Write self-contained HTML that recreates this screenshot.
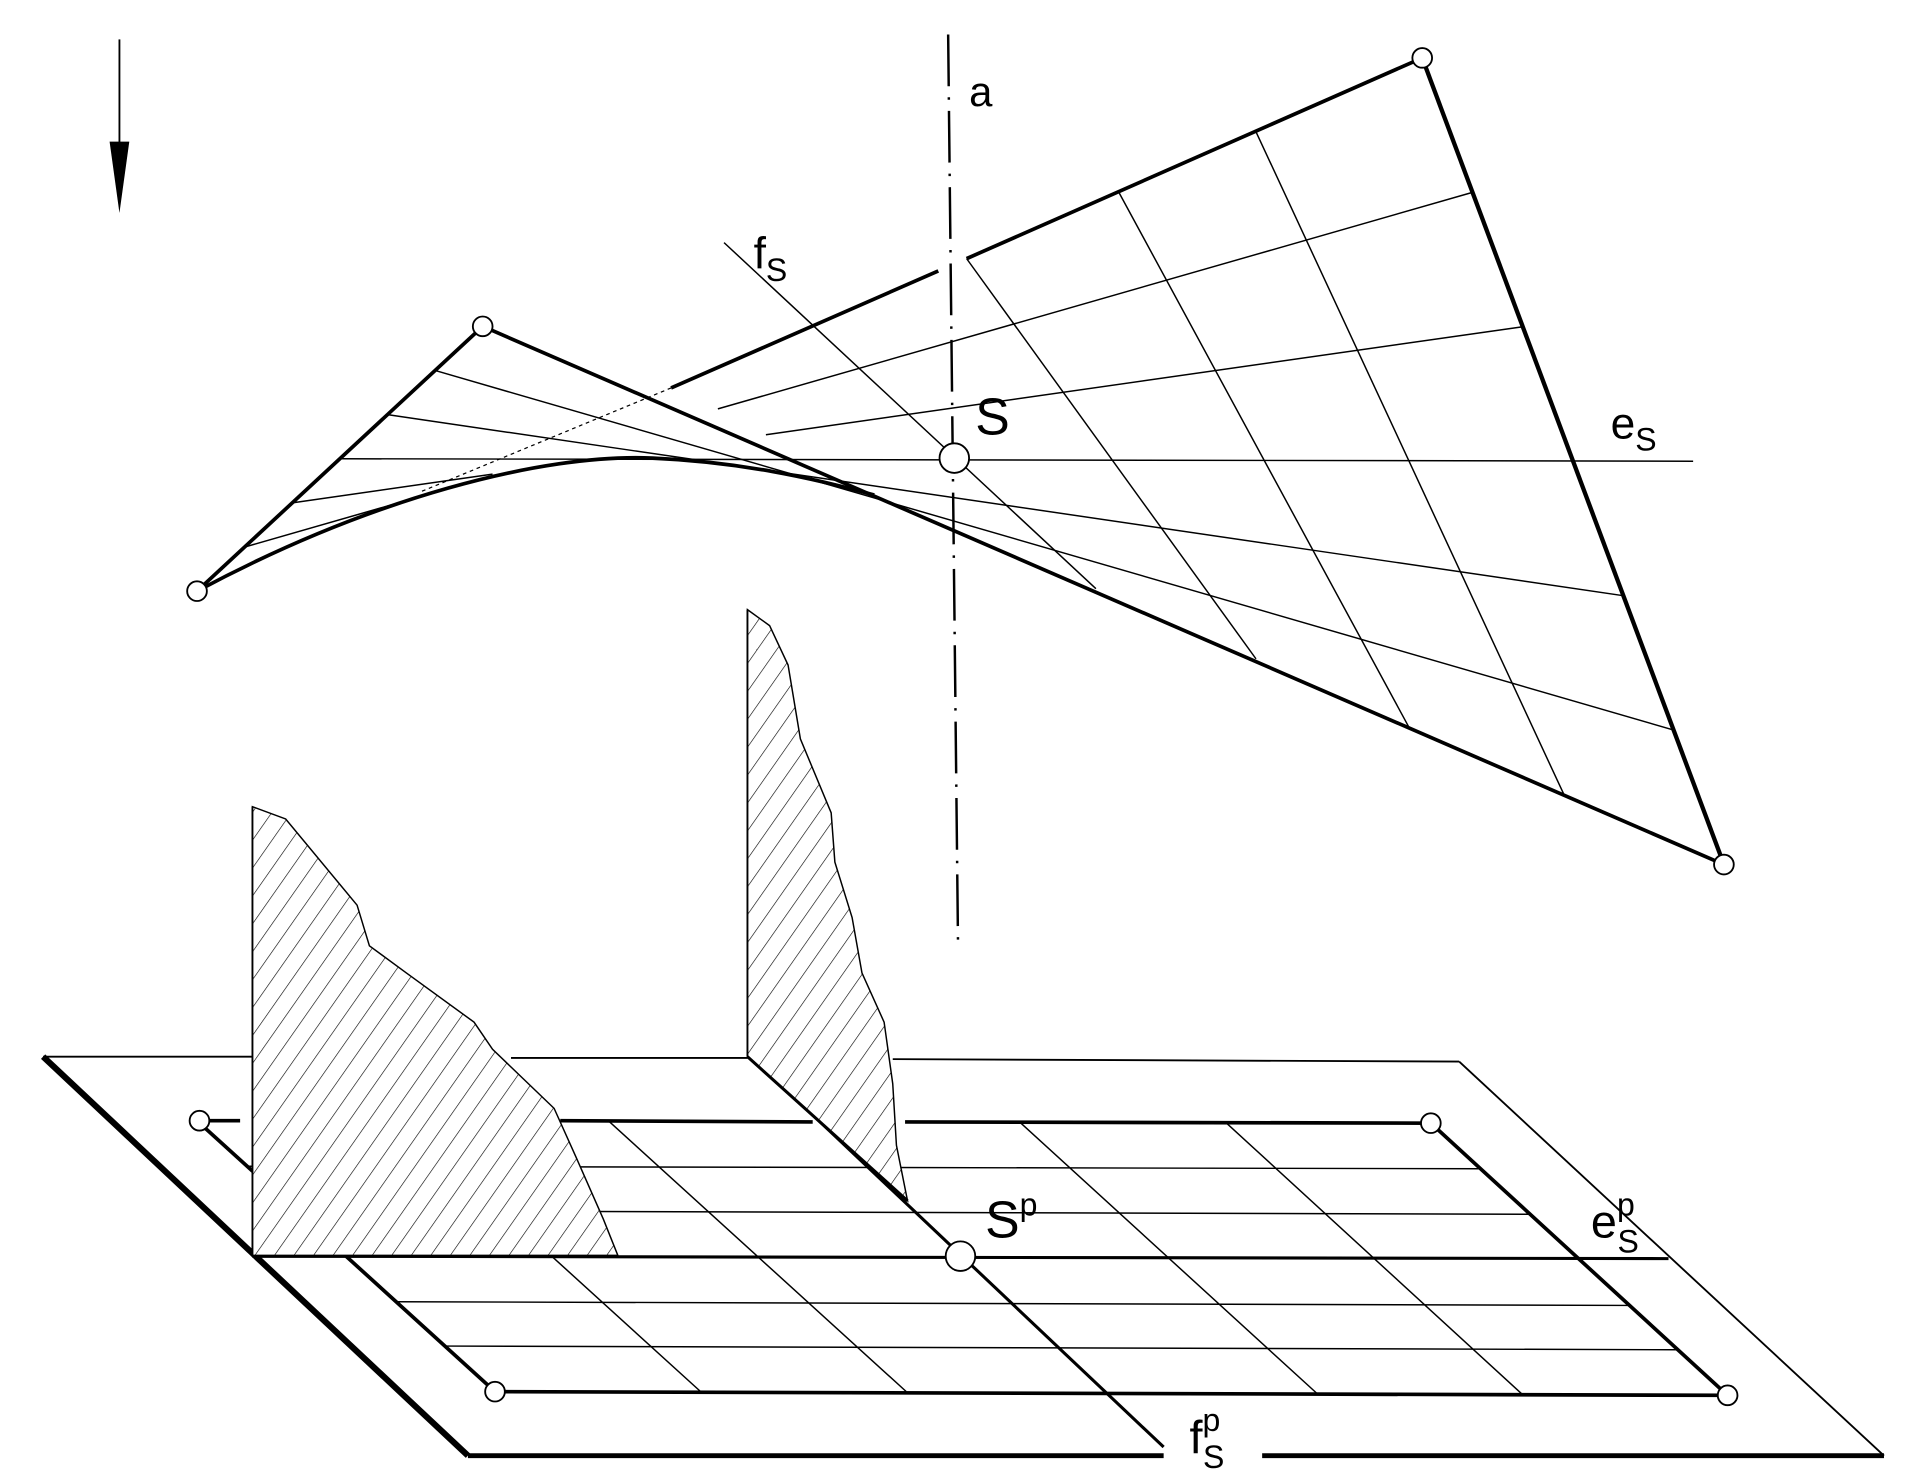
<!DOCTYPE html>
<html><head><meta charset="utf-8"><style>
html,body{margin:0;padding:0;background:#fff;}
svg{display:block;}
text{font-family:"Liberation Sans",sans-serif;fill:#000;}
</style></head><body>
<svg width="1916" height="1484" viewBox="0 0 1556 1205" preserveAspectRatio="none" xmlns="http://www.w3.org/2000/svg">
<defs>
<pattern id="h" patternUnits="userSpaceOnUse" width="13" height="13" patternTransform="rotate(35)">
<line x1="0" y1="0" x2="0" y2="13" stroke="#000" stroke-width="1"/>
</pattern>
</defs>
<rect width="1556" height="1205" fill="#fff"/>
<line x1="97" y1="32" x2="97" y2="120" stroke="#000" stroke-width="1.5"/>
<polygon points="89,115 105,115 97,173" fill="#000"/>
<line x1="770" y1="28" x2="778" y2="765" stroke="#000" stroke-width="2" stroke-dasharray="42 9 2 9"/>
<text x="787" y="86" font-size="34">a</text>

<g stroke="#000" fill="none">
<g stroke-width="1.2">
<line x1="353.3" y1="300.8" x2="1359.2" y2="592.8"/>
<line x1="314.7" y1="336.7" x2="1318.3" y2="483.7"/>
<line x1="276" y1="372.5" x2="1375" y2="374.5"/>
<line x1="237.3" y1="408.3" x2="400" y2="385"/>
<line x1="622" y1="353" x2="1236.7" y2="265.3"/>
<line x1="198.7" y1="444.2" x2="335" y2="405"/>
<line x1="583" y1="332" x2="1195.8" y2="156.2"/>
</g>
<line x1="588" y1="197" x2="890" y2="478" stroke-width="1.2"/>
<line x1="785" y1="210" x2="1020" y2="535" stroke-width="1.2"/>
<line x1="908" y1="155" x2="1145" y2="592" stroke-width="1.2"/>
<line x1="1020" y1="107" x2="1270" y2="645" stroke-width="1.2"/>
<line x1="545" y1="315" x2="340" y2="400" stroke-width="1" stroke-dasharray="3 3"/>
<line x1="392" y1="265" x2="160" y2="480" stroke-width="3"/>
<line x1="392" y1="265" x2="1400" y2="702" stroke-width="3"/>
<line x1="1155" y1="47" x2="1400" y2="702" stroke-width="3.5"/>
<line x1="1155" y1="47" x2="785" y2="210" stroke-width="3"/>
<line x1="762" y1="220" x2="545" y2="315" stroke-width="3"/>
<path d="M160,480 C300,405 440,368 530,372 C600,375 660,388 710,402" stroke-width="3"/>
</g>
<g fill="#fff" stroke="#000" stroke-width="1.5">
<circle cx="392" cy="265" r="8"/><circle cx="160" cy="480" r="8"/>
<circle cx="1155" cy="47" r="8"/><circle cx="1400" cy="702" r="8"/>
<circle cx="775" cy="372" r="12"/>
</g>
<text x="612" y="218" font-size="36">f<tspan font-size="26" dy="10">S</tspan></text>
<text x="792" y="353" font-size="42">S</text>
<text x="1308" y="356" font-size="36">e<tspan font-size="26" dy="10">S</tspan></text>

<g stroke="#000" fill="none">
<line x1="35" y1="858" x2="205" y2="858" stroke-width="1.5"/>
<line x1="415" y1="859" x2="607" y2="859" stroke-width="1.5"/>
<line x1="725" y1="860" x2="1185" y2="862" stroke-width="1.5"/>
<line x1="1185" y1="862" x2="1530" y2="1182" stroke-width="1.5"/>
<line x1="35" y1="858" x2="380" y2="1182" stroke-width="5"/>
<line x1="380" y1="1182" x2="945" y2="1182" stroke-width="4"/>
<line x1="1025" y1="1182" x2="1530" y2="1182" stroke-width="4"/>
<g stroke-width="1.2">
<line x1="200" y1="947" x2="1202" y2="949"/>
<line x1="241" y1="983" x2="1242" y2="986"/>
<line x1="322" y1="1057" x2="1323" y2="1060"/>
<line x1="362" y1="1093" x2="1363" y2="1096"/>
<line x1="327" y1="910" x2="569" y2="1130"/>
<line x1="494" y1="910" x2="736" y2="1130"/>
<line x1="828" y1="911" x2="1069" y2="1131"/>
<line x1="995" y1="911" x2="1236" y2="1132"/>
</g>
<line x1="160" y1="910" x2="402" y2="1130" stroke-width="3"/>
<line x1="160" y1="910" x2="195" y2="910" stroke-width="3"/>
<line x1="455" y1="910" x2="660" y2="911" stroke-width="3"/>
<line x1="735" y1="911" x2="1162" y2="912" stroke-width="3"/>
<line x1="402" y1="1130" x2="1403" y2="1133" stroke-width="3"/>
<line x1="1162" y1="912" x2="1403" y2="1133" stroke-width="3"/>
<line x1="610" y1="858" x2="945" y2="1175" stroke-width="2.5"/>
<line x1="205" y1="1020" x2="1355" y2="1022" stroke-width="2.5"/>
</g>
<polygon points="205,655 232,665 290,735 300,768 330,790 385,830 400,852 450,900 468,940 490,990 502,1020 205,1020" fill="#fff" stroke="none"/>
<polygon points="205,655 232,665 290,735 300,768 330,790 385,830 400,852 450,900 468,940 490,990 502,1020 205,1020" fill="url(#h)" stroke="#000" stroke-width="1.2"/>
<polygon points="607,495 625,508 640,540 650,600 675,660 678,700 692,745 700,790 718,830 725,880 728,930 737,975 607,858" fill="#fff" stroke="none"/>
<polygon points="607,495 625,508 640,540 650,600 675,660 678,700 692,745 700,790 718,830 725,880 728,930 737,975 607,858" fill="url(#h)" stroke="#000" stroke-width="1.2"/>
<line x1="205" y1="1020" x2="502" y2="1020" stroke="#000" stroke-width="2.5"/>
<line x1="607" y1="858" x2="737" y2="975" stroke="#000" stroke-width="2.5"/>
<line x1="205" y1="655" x2="205" y2="1020" stroke="#000" stroke-width="1.5"/>
<line x1="607" y1="495" x2="607" y2="858" stroke="#000" stroke-width="1.5"/>
<g fill="#fff" stroke="#000" stroke-width="1.5">
<circle cx="162" cy="910" r="8"/><circle cx="1162" cy="912" r="8"/>
<circle cx="402" cy="1130" r="8"/><circle cx="1403" cy="1133" r="8"/>
<circle cx="780" cy="1020" r="12"/>
</g>
<text x="800" y="1005" font-size="42">S<tspan font-size="26" dy="-18">p</tspan></text>
<text x="1292" y="1005" font-size="38">e<tspan font-size="26" dy="-18">p</tspan><tspan font-size="26" dx="-14" dy="30">S</tspan></text>
<text x="966" y="1180" font-size="38">f<tspan font-size="26" dy="-18">p</tspan><tspan font-size="26" dx="-14" dy="30">S</tspan></text>
</svg>
</body></html>
